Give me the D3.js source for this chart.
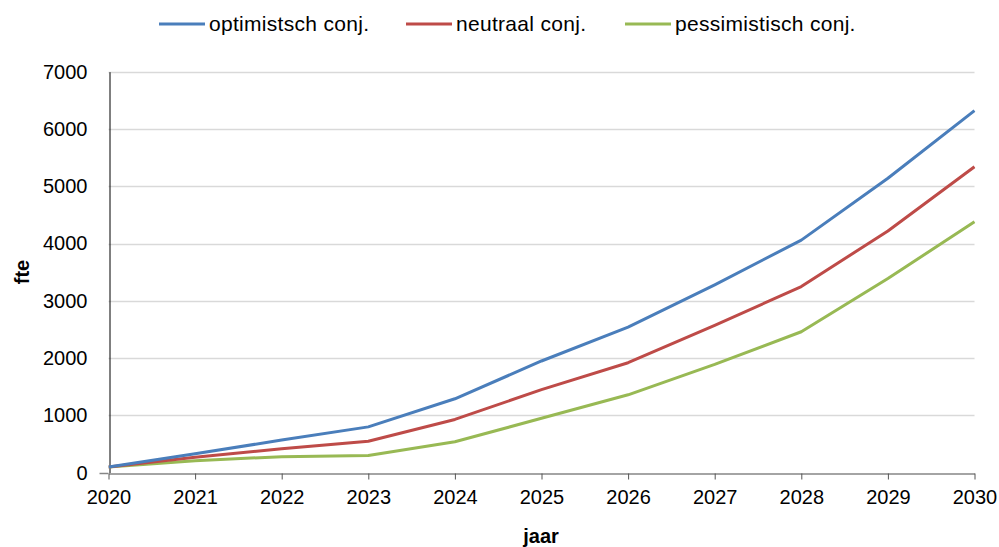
<!DOCTYPE html>
<html><head><meta charset="utf-8">
<script src="https://cdn.jsdelivr.net/npm/d3@7/dist/d3.min.js"></script>
<style>body{margin:0;background:#fff}svg{display:block}text{font-family:"Liberation Sans",Arial,sans-serif;fill:#000}</style>
</head><body><svg id="c" width="999" height="547"></svg>
<script>
const years = [2020,2021,2022,2023,2024,2025,2026,2027,2028,2029,2030];
const optimistisch = [100,330,570,800,1290,1950,2540,3280,4060,5140,6320];
const neutraal     = [100,270,420,550,930,1450,1920,2570,3250,4220,5340];
const pessimistisch= [100,210,280,300,540,950,1360,1890,2460,3390,4380];
const seriesNames = ["optimistsch conj.","neutraal conj.","pessimistisch conj."];
const colors = ["#4a7ebb","#be4b48","#98b954"];
const yTicks = [0,1000,2000,3000,4000,5000,6000,7000];

const svg = d3.select("#c");
const x = d3.scaleLinear().domain([2020,2030]).range([108.5,974.5]);
const y = d3.scaleLinear().domain([0,7000]).range([472.7,71.7]);

// gridlines
svg.append("g").selectAll("line").data(yTicks.slice(1)).join("line")
  .attr("x1",x(2020)).attr("x2",x(2030)).attr("y1",d=>Math.round(y(d))+0.5).attr("y2",d=>Math.round(y(d))+0.5)
  .attr("stroke","#d9d9d9").attr("stroke-width",1.3);

// y axis
const ya = svg.append("g").attr("transform",`translate(${Math.round(x(2020))+0.5},0)`)
  .call(d3.axisLeft(y).tickValues(yTicks).tickSize(0).tickPadding(22).tickFormat(d3.format("d")));
ya.select(".domain").attr("stroke","#000").attr("stroke-width",1);
ya.selectAll("text").attr("font-size",20).attr("font-family","Liberation Sans, Arial, sans-serif").attr("fill","#000");

// x axis
const xa = svg.append("g").attr("transform",`translate(0,${Math.round(y(0))+0.5})`)
  .call(d3.axisBottom(x).tickValues(years).tickSize(6).tickPadding(10).tickSizeOuter(0).tickFormat(d3.format("d")));
xa.select(".domain").attr("stroke","#868686").attr("stroke-width",1.5);
xa.selectAll(".tick line").attr("stroke","#555");
xa.selectAll("text").attr("font-size",20).attr("font-family","Liberation Sans, Arial, sans-serif").attr("fill","#000");
svg.append("line").attr("x1",x(2020)-9).attr("x2",x(2020)).attr("y1",Math.round(y(0))+0.5).attr("y2",Math.round(y(0))+0.5).attr("stroke","#868686").attr("stroke-width",1.5);

// lines
const data = [optimistisch,neutraal,pessimistisch];
const line = d3.line().x((d,i)=>x(years[i])).y(d=>y(d));
svg.append("defs").append("clipPath").attr("id","clip").append("rect").attr("x",x(2020)).attr("y",0).attr("width",x(2030)-x(2020)+1).attr("height",547);
const lg = svg.append("g").attr("clip-path","url(#clip)");
data.slice().reverse().forEach((s,k)=>{
  const i = 2-k;
  lg.append("path").datum(s).attr("d",line).attr("fill","none").attr("stroke",colors[i]).attr("stroke-width",3).attr("stroke-linejoin","round");
});

// legend
const legX = [159,406,625];
seriesNames.forEach((n,i)=>{
  svg.append("line").attr("x1",legX[i]).attr("x2",legX[i]+46).attr("y1",24).attr("y2",24).attr("stroke",colors[i]).attr("stroke-width",3);
  svg.append("text").attr("x",legX[i]+50).attr("y",31).attr("font-size",21).attr("letter-spacing",0.3).text(n);
});

// axis titles
svg.append("text").attr("transform","translate(29,272) rotate(-90)").attr("text-anchor","middle").attr("font-size",20).attr("font-weight","bold").text("fte");
svg.append("text").attr("x",541).attr("y",543).attr("text-anchor","middle").attr("font-size",20).attr("font-weight","bold").text("jaar");
</script></body></html>
